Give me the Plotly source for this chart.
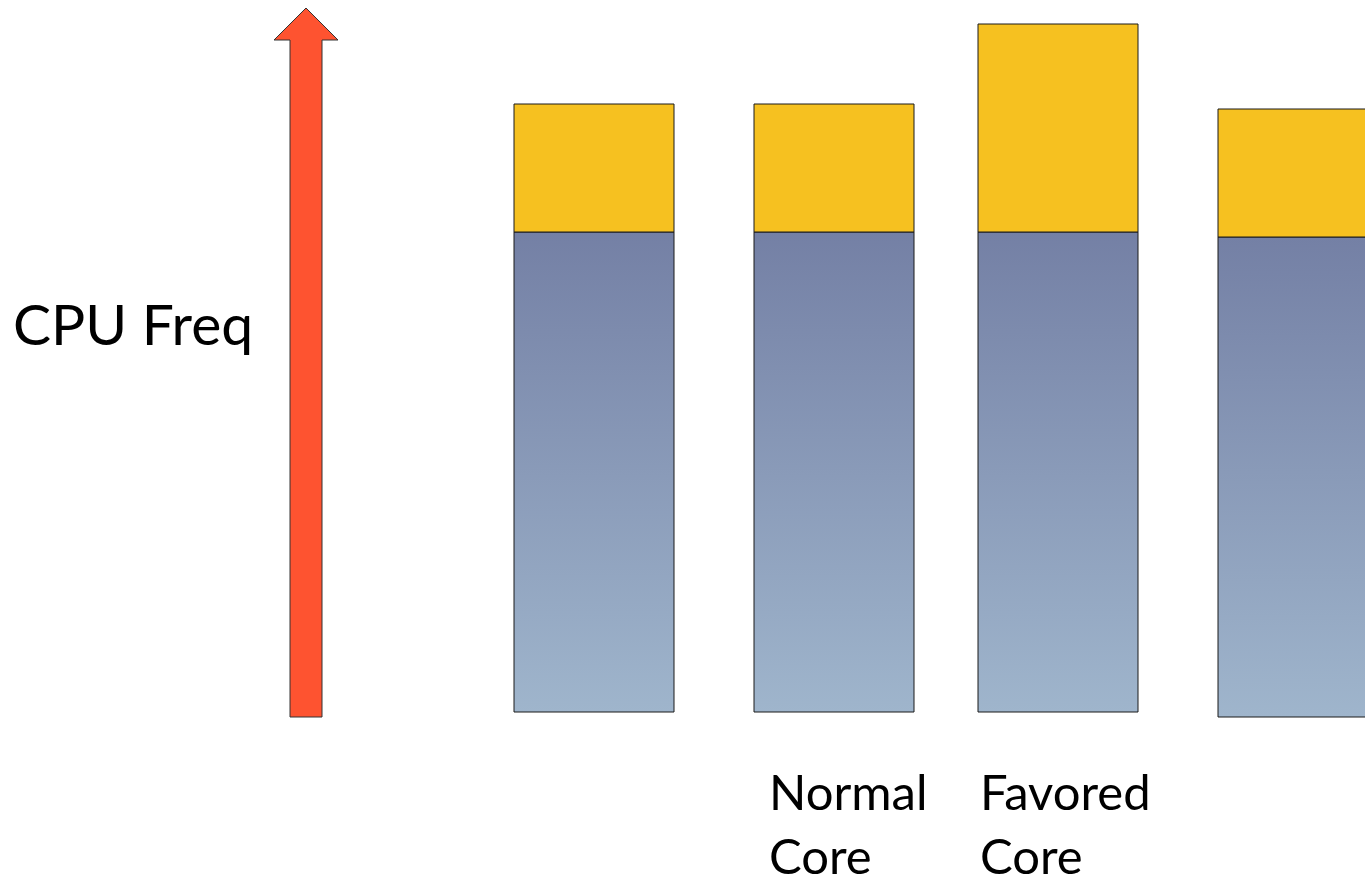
import plotly.graph_objects as go

# Per-core frequency stacks: base frequency plus turbo headroom
core_x = [594, 834, 1058, 1298]          # core column centres
core_width = 160
core_floor = [0, 0, 0, -5]               # where each column starts
base_freq = [480, 480, 480, 480]         # guaranteed frequency
turbo_boost = [128, 128, 208, 128]       # extra boost on top

core_labels = ["", "Normal<br>Core", "Favored<br>Core", ""]
label_x = [0, 767, 978, 0]

# Frequency arrow geometry
arrow_x = 306
arrow_shaft = 32
arrow_head = 64
arrow_bottom = -5
arrow_neck = 672
arrow_tip = 704

BLUE_TOP = "#7480a5"
BLUE_BOTTOM = "#9fb5cc"
GOLD = "#f6c120"
ARROW_RED = "#fe5330"
EDGE = "#1a1a1a"

fig = go.Figure()


def rect(cx, w, y0, y1):
    l, r = cx - w / 2, cx + w / 2
    return [l, r, r, l, l], [y0, y0, y1, y1, y0]


for cx, fl, bf, tb in zip(core_x, core_floor, base_freq, turbo_boost):
    xs, ys = rect(cx, core_width, fl, fl + bf)
    fig.add_trace(go.Scatter(
        x=xs, y=ys, mode="lines", fill="toself",
        line=dict(color=EDGE, width=1),
        fillgradient=dict(type="vertical", start=fl, stop=fl + bf,
                          colorscale=[[0, BLUE_BOTTOM], [1, BLUE_TOP]]),
        hoverinfo="skip", showlegend=False,
    ))
    xs, ys = rect(cx, core_width, fl + bf, fl + bf + tb)
    fig.add_trace(go.Scatter(
        x=xs, y=ys, mode="lines", fill="toself", fillcolor=GOLD,
        line=dict(color=EDGE, width=1),
        hoverinfo="skip", showlegend=False,
    ))

# Upward arrow
hs, hh = arrow_shaft / 2, arrow_head / 2
ax = [arrow_x - hs, arrow_x + hs, arrow_x + hs, arrow_x + hh, arrow_x,
      arrow_x - hh, arrow_x - hs, arrow_x - hs]
ay = [arrow_bottom, arrow_bottom, arrow_neck, arrow_neck, arrow_tip,
      arrow_neck, arrow_neck, arrow_bottom]
fig.add_trace(go.Scatter(
    x=ax, y=ay, mode="lines", fill="toself", fillcolor=ARROW_RED,
    line=dict(color="#333333", width=1),
    hoverinfo="skip", showlegend=False,
))

fig.add_annotation(x=11, y=389, text="CPU Freq", showarrow=False,
                   xanchor="left", yanchor="middle",
                   font=dict(family="Lato", size=57, color="black"))

for lx, txt in zip(label_x, core_labels):
    if txt:
        fig.add_annotation(x=lx, y=-111, text=txt, showarrow=False,
                           xanchor="left", yanchor="middle", align="left",
                           font=dict(family="Lato", size=49, color="black"))

fig.update_layout(
    width=1365, height=876,
    margin=dict(l=0, r=0, t=0, b=0),
    paper_bgcolor="white", plot_bgcolor="white",
    xaxis=dict(range=[0, 1365], visible=False, fixedrange=True),
    yaxis=dict(range=[-164, 712], visible=False, fixedrange=True),
)

fig.write_html("out.html")
